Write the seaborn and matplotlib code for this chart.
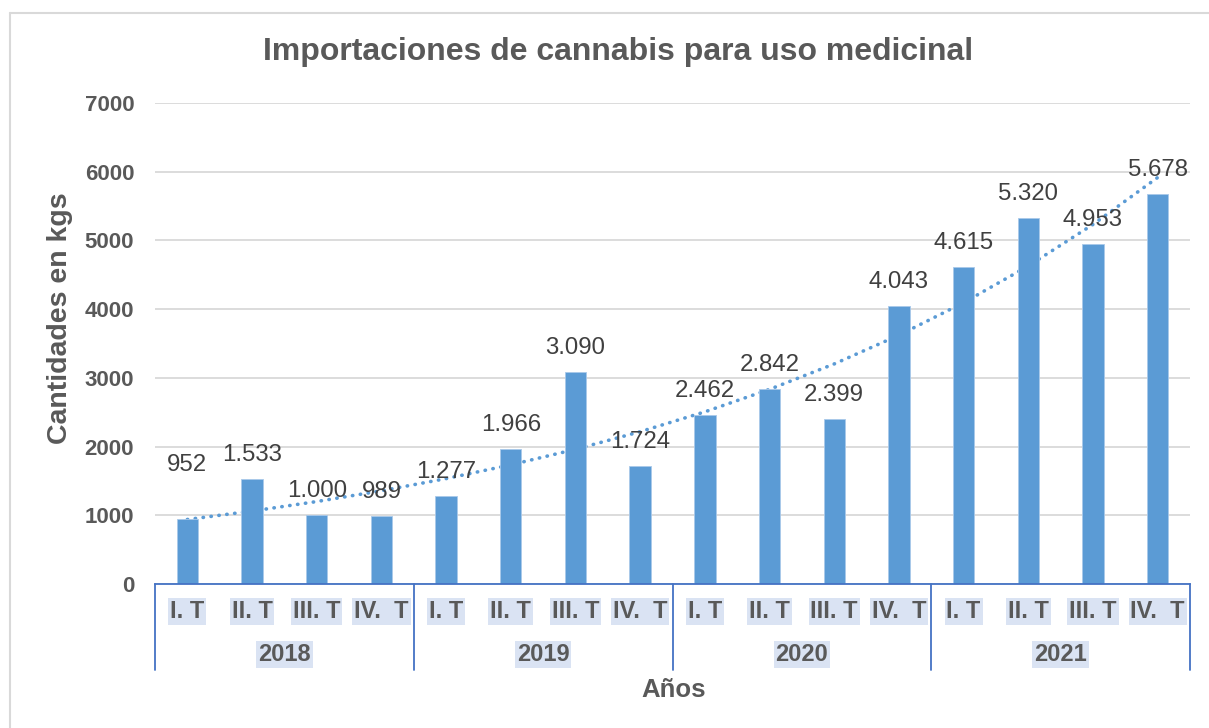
import numpy as np
import pandas as pd
import matplotlib
matplotlib.use("Agg")
import matplotlib.pyplot as plt
import matplotlib.transforms as mtransforms
from matplotlib.lines import Line2D
import seaborn as sns

# ---- data ----
years = ["2018", "2019", "2020", "2021"]
quarters = ["I. T", "II. T", "III. T", "IV.  T"]
values = [952, 1533, 1000, 989,
          1277, 1966, 3090, 1724,
          2462, 2842, 2399, 4043,
          4615, 5320, 4953, 5678]
value_labels = ["952", "1.533", "1.000", "989",
                "1.277", "1.966", "3.090", "1.724",
                "2.462", "2.842", "2.399", "4.043",
                "4.615", "5.320", "4.953", "5.678"]
yticks = [0, 1000, 2000, 3000, 4000, 5000, 6000, 7000]

title = "Importaciones de cannabis para uso medicinal"
ylabel = "Cantidades en kgs"
xlabel = "Años"

# ---- styling ----
sns.set_theme(style="white")
plt.rcParams['font.family'] = ['Liberation Sans', 'DejaVu Sans']

BAR = "#5b9bd5"
AXBLUE = "#4472c4"
TXT = "#595959"
LBL = "#404040"
HL = "#dae3f3"
W, H = 1209, 728

cats = [f"{y} {q}" for y in years for q in quarters]
df = pd.DataFrame({"cat": cats, "value": values})

fig = plt.figure(figsize=(W / 100, H / 100), dpi=100)
ax = fig.add_axes([155 / W, 1 - 584 / H, (1190 - 155) / W, (584 - 103) / H])

# exponential trendline (least squares on log values, as Excel does)
xs = np.arange(1, len(values) + 1)
b, a = np.polyfit(xs, np.log(values), 1)
trend = np.exp(a + b * xs)
ax.plot(np.arange(len(values)), trend, color=BAR, lw=2.6, ls=(0, (0.1, 2.1)),
        dash_capstyle="round", zorder=1)

sns.barplot(data=df, x="cat", y="value", order=cats, color=BAR, saturation=1,
            width=0.33, ax=ax, zorder=2, edgecolor="#a9c9ea", linewidth=0.6)

ax.set_ylim(0, 7000)
ax.set_xlim(-0.5, len(values) - 0.5)
ax.set_yticks(yticks)
ax.set_yticklabels([str(t) for t in yticks], fontsize=16, fontweight="bold", color=TXT)
ax.tick_params(axis="y", length=0, pad=15)
ax.yaxis.grid(True, color="#d9d9d9", lw=1.3)
ax.set_axisbelow(True)
for s in ["left", "right", "top"]:
    ax.spines[s].set_visible(False)
ax.spines["bottom"].set_color(AXBLUE)
ax.spines["bottom"].set_linewidth(1.3)

# data labels
for i, (v, lab) in enumerate(zip(values, value_labels)):
    off = 54 if i == 0 else 24
    ax.annotate(lab, (i, v), xytext=(0, off * 0.72), textcoords="offset points",
                ha="center", va="center", fontsize=17.3, color=LBL, zorder=3)

# hierarchical category axis
ax.set_xticks([])
ax.set_xlabel("")
trans = mtransforms.blended_transform_factory(ax.transData, ax.transAxes)
h = (584 - 103)
for i, c in enumerate(cats):
    q = quarters[i % 4]
    ax.text(i, -27.5 / h, q, transform=trans, ha="center", va="center",
            fontsize=17, fontweight="bold", color=TXT,
            bbox=dict(boxstyle="square,pad=0.08", fc=HL, ec="none"))
for k, y in enumerate(years):
    ax.text(4 * k + 1.5, -70.5 / h, y, transform=trans, ha="center", va="center",
            fontsize=17, fontweight="bold", color=TXT,
            bbox=dict(boxstyle="square,pad=0.08", fc=HL, ec="none"))
for k in range(len(years) + 1):
    ax.plot([4 * k - 0.5, 4 * k - 0.5], [0, -86 / h], transform=trans,
            color=AXBLUE, lw=1.3, clip_on=False)

ax.set_ylabel("")
fig.text(60 / W, 1 - 318 / H, ylabel, rotation=90, ha="center", va="center",
         fontsize=20.5, fontweight="bold", color=TXT)
fig.text(674 / W, 1 - 690 / H, xlabel, ha="center", va="center",
         fontsize=18.5, fontweight="bold", color=TXT)
fig.text(618 / W, 1 - 52 / H, title, ha="center", va="center",
         fontsize=23, fontweight="bold", color=TXT)

# chart-area border (only top and left edges visible in the reference)
fig.lines.append(Line2D([10 / W, 1], [1 - 13 / H, 1 - 13 / H], transform=fig.transFigure,
                        color="#d9d9d9", lw=1.5))
fig.lines.append(Line2D([10 / W, 10 / W], [0, 1 - 13 / H], transform=fig.transFigure,
                        color="#d9d9d9", lw=1.5))

fig.savefig("out.png", dpi=100, facecolor="white")
